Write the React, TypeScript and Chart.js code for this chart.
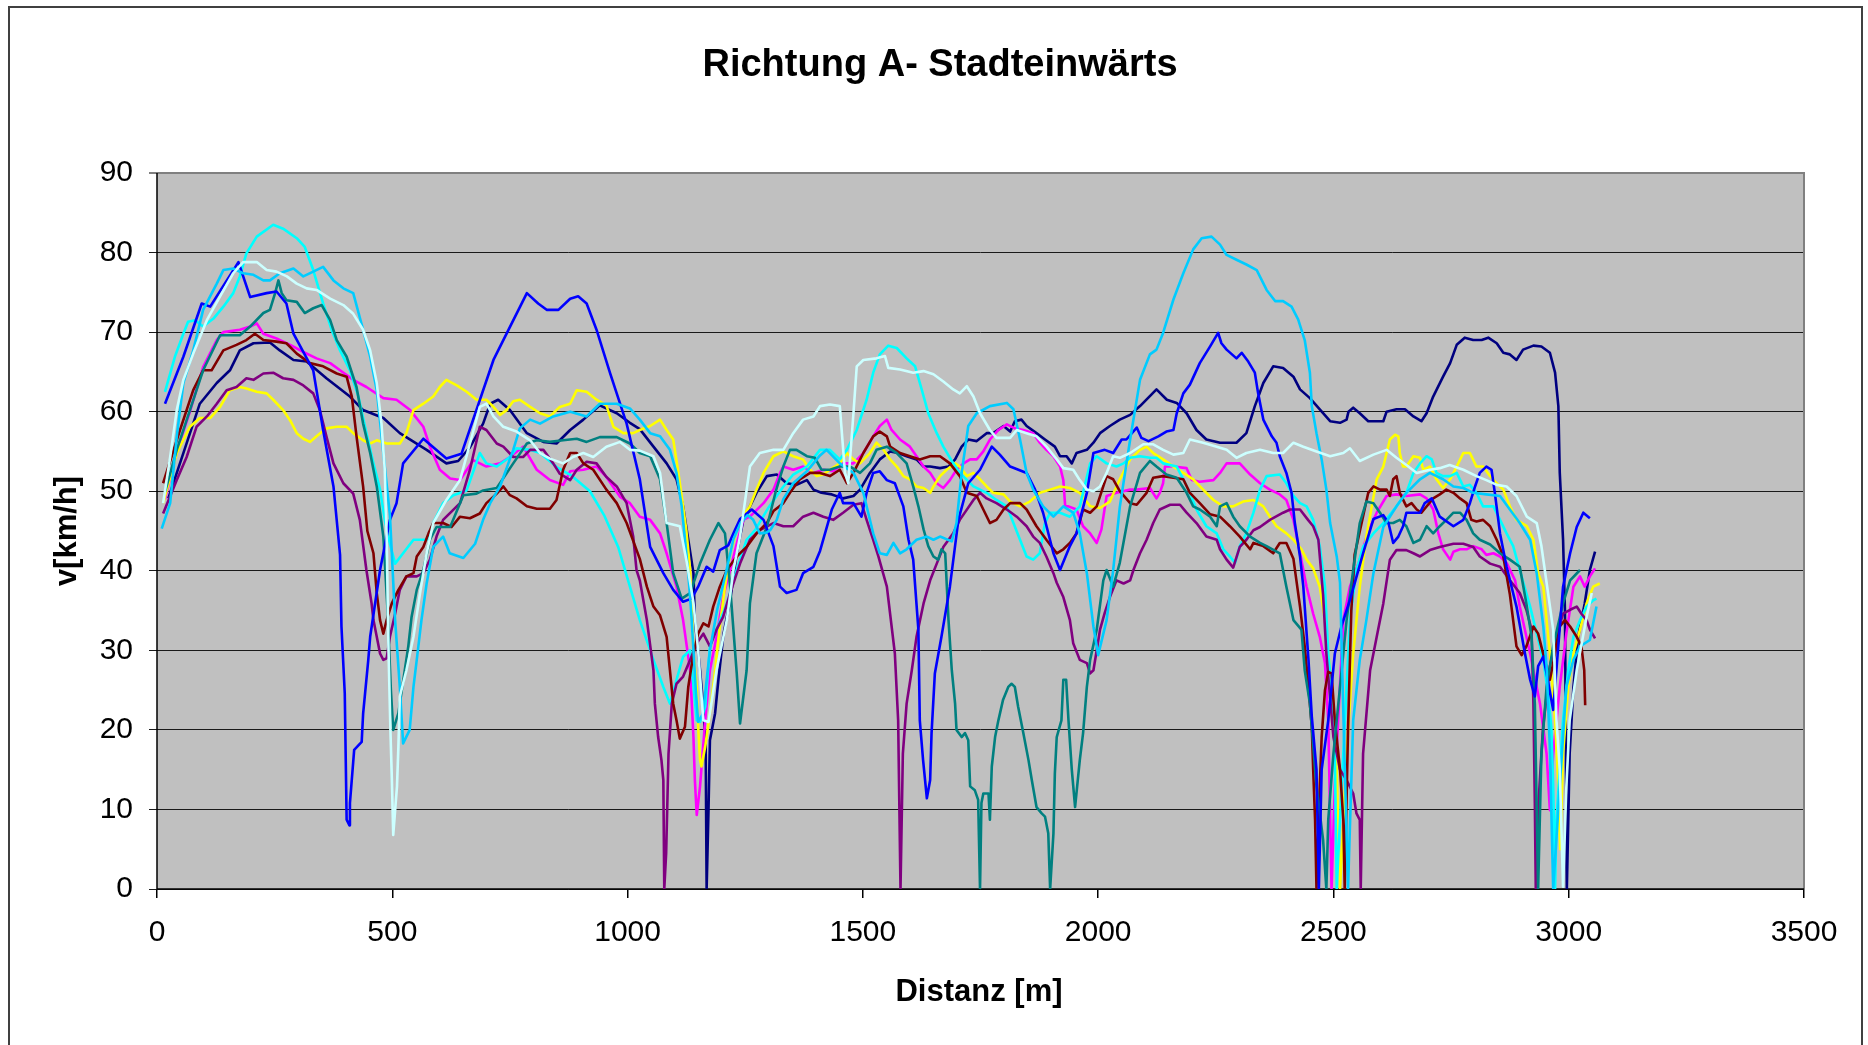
import React, { useEffect, useRef } from "react";
import { Chart, registerables } from "chart.js";

Chart.register(...registerables);

// ---- Axis definitions ----
const xTicks = [0, 500, 1000, 1500, 2000, 2500, 3000, 3500];
const yTicks = [0, 10, 20, 30, 40, 50, 60, 70, 80, 90];
const title = "Richtung A- Stadteinwärts";
const xTitle = "Distanz [m]";
const yTitle = "v[km/h]";

// ---- Series values: [distance m, speed km/h] ----
const navy = [[24,49.1],[56,54.8],[91,61],[127,63.6],[155,65.2],[176,67.7],[205,68.6],[240,68.7],[261,67.7],[290,66.5],[318,66.3],[360,64.2],[410,61.9],[438,60.2],[481,59.2],[516,57.3],[573,55.2],[615,53.5],[640,53.8],[665,55.5],[693,58.5],[708,61],[725,61.5],[750,60.2],[786,57.3],[821,56.2],[849,56],[878,57.7],[906,59],[941,60.8],[977,59.8],[1005,58.6],[1026,57.8],[1055,55.6],[1083,53.5],[1104,51.5],[1118,48.1],[1129,43.9],[1140,39.7],[1143,33.8],[1154,27.5],[1161,22.9],[1166,17.9],[1168,0],[1172,10],[1175,18.7],[1186,22.1],[1193,26.3],[1204,32.1],[1218,36.3],[1232,42.2],[1246,46.4],[1274,49.8],[1296,51.9],[1317,52.1],[1338,51],[1359,50.8],[1381,51.4],[1395,50.2],[1412,49.8],[1434,49.6],[1458,49.1],[1480,49.4],[1494,50.2],[1515,52.3],[1536,54],[1558,55],[1575,54.8],[1593,54.4],[1614,54],[1629,53.1],[1643,53.1],[1664,52.9],[1682,53.1],[1696,54],[1710,55.6],[1724,56.5],[1742,56.3],[1763,57.3],[1777,57.3],[1799,58.2],[1813,57.5],[1823,58.8],[1837,59],[1848,58.2],[1869,57.3],[1887,56.5],[1908,55.6],[1919,54.4],[1933,54.4],[1944,53.5],[1954,54.8],[1976,55.2],[1990,56.1],[2004,57.3],[2025,58.2],[2046,59],[2068,59.6],[2089,60.7],[2124,62.8],[2146,61.5],[2167,61.1],[2188,59.8],[2209,57.7],[2230,56.5],[2259,56.1],[2294,56.1],[2315,57.3],[2333,60.7],[2351,63.6],[2372,65.7],[2393,65.5],[2415,64.4],[2429,62.8],[2450,61.7],[2471,60.3],[2493,58.8],[2514,58.6],[2528,59],[2532,60],[2542,60.5],[2556,59.8],[2574,58.8],[2606,58.8],[2613,60],[2634,60.3],[2652,60.3],[2670,59.4],[2687,58.8],[2698,59.8],[2712,61.9],[2733,64.4],[2748,66.1],[2762,68.4],[2779,69.3],[2797,69],[2815,69],[2829,69.3],[2847,68.6],[2861,67.4],[2875,67.2],[2889,66.5],[2903,67.8],[2925,68.3],[2942,68.2],[2960,67.4],[2971,64.9],[2978,60.7],[2981,52.3],[2988,43.9],[2992,35],[2996,0],[3002,17],[3010,25.4],[3020,31.7],[3034,35.9],[3045,40.1],[3056,42.4]];

const magenta = [[17,49],[42,55],[70,60],[98,65.6],[127,69],[141,70],[176,70.3],[198,70.7],[212,71.1],[226,69.8],[254,69.2],[283,68.4],[311,67.5],[339,66.7],[368,66.1],[389,65.2],[417,64],[445,63.1],[481,61.7],[509,61.5],[538,60.2],[566,58.1],[580,55.6],[601,52.7],[623,51.6],[644,51.4],[672,53.9],[700,53.1],[729,53.5],[750,54.3],[778,55.6],[807,52.7],[835,51.4],[863,50.8],[878,52.5],[906,52.7],[934,53.1],[955,51.8],[984,49.3],[1005,48.5],[1026,46.8],[1048,46.4],[1069,44.7],[1083,42.2],[1104,38],[1118,33.8],[1133,27.5],[1140,19.1],[1143,13.7],[1147,9.3],[1154,12.9],[1165,21.2],[1175,27.5],[1189,31.7],[1203,36.7],[1218,40.1],[1232,43.4],[1246,46.4],[1260,46.8],[1289,48.5],[1310,50.2],[1324,52.3],[1331,53.1],[1352,52.7],[1373,53.1],[1395,52.3],[1416,52.7],[1437,52.5],[1458,53.5],[1480,53.5],[1501,54.8],[1522,56.9],[1536,58.2],[1551,59],[1561,57.7],[1579,56.5],[1600,55.6],[1614,54.4],[1629,53.1],[1643,52.3],[1657,51],[1671,50.4],[1685,51.4],[1699,52.7],[1714,53.5],[1728,54],[1742,54],[1756,55],[1770,56.5],[1788,57.7],[1806,58.4],[1823,57.9],[1841,57.7],[1862,57.3],[1876,56.1],[1890,55.2],[1905,54.4],[1919,53.1],[1926,51.4],[1930,48.1],[1937,48.1],[1954,47.7],[1968,45.6],[1983,44.7],[1997,43.5],[2007,45.2],[2018,49.4],[2039,49.8],[2068,50.2],[2082,50.2],[2110,50.4],[2124,49.1],[2131,49.8],[2138,51],[2142,53.1],[2160,53.1],[2188,52.9],[2199,51.4],[2216,51.2],[2245,51.4],[2259,52.3],[2273,53.5],[2301,53.5],[2323,52.1],[2344,51],[2365,50.2],[2386,49.6],[2400,48.9],[2415,46.4],[2429,42.2],[2443,38],[2457,34.6],[2471,31.7],[2482,28.4],[2489,21.2],[2496,0],[2503,12.9],[2510,21.2],[2521,33.8],[2535,38],[2556,41.4],[2574,45],[2592,47.3],[2613,49.4],[2634,49.6],[2655,49.4],[2684,49.6],[2698,49.1],[2712,47.7],[2723,44.7],[2733,42.7],[2748,41.4],[2755,42.4],[2769,42.7],[2783,42.7],[2797,43.1],[2815,42.7],[2825,42],[2840,42.2],[2854,41.8],[2868,41],[2886,38.8],[2896,35.5],[2918,29.6],[2939,23.3],[2953,17],[2960,9.9],[2967,17],[2981,25.4],[2995,32.1],[3010,38],[3024,39.3],[3034,38],[3045,39.3],[3056,40.3]];

const yellow = [[13,48.5],[42,54.8],[70,58.1],[91,59.2],[113,59.2],[134,60.6],[155,62.7],[176,63.1],[190,62.9],[212,62.5],[233,62.3],[247,61.5],[268,60.2],[283,58.9],[297,57.3],[311,56.6],[325,56.2],[339,56.9],[360,57.9],[382,58.1],[403,58.1],[417,57.3],[438,56.4],[453,56],[467,56.4],[488,56],[516,56],[530,57.3],[545,60.2],[566,61],[587,61.9],[601,63.1],[615,64],[637,63.3],[658,62.5],[679,61.5],[700,61.5],[715,60.6],[729,59.6],[743,60.2],[757,61.3],[771,61.5],[793,60.6],[814,59.8],[835,59.4],[856,60.6],[878,61],[892,62.7],[913,62.5],[934,61.5],[955,60.8],[970,58.1],[991,57.3],[1012,57.3],[1026,57.7],[1048,58.2],[1069,59],[1083,57.7],[1097,56.5],[1108,52.3],[1118,48.1],[1125,45],[1133,40.1],[1140,29.6],[1147,25.4],[1150,20.4],[1154,16.2],[1157,15.4],[1165,17.9],[1175,22.1],[1186,27.5],[1196,33],[1207,38],[1218,42.2],[1228,44.3],[1239,46.4],[1260,48.1],[1274,50.2],[1289,52.3],[1310,54.4],[1331,55],[1352,54.4],[1373,54],[1388,52.7],[1402,51.9],[1416,52.1],[1430,52.7],[1451,53.5],[1466,54.8],[1480,54],[1494,53.5],[1515,54.8],[1529,56.1],[1544,55.2],[1558,54],[1572,53.1],[1586,51.9],[1600,51.5],[1614,50.6],[1629,50.4],[1643,49.8],[1650,50.6],[1664,51.9],[1678,52.7],[1696,53.5],[1706,53.1],[1721,51.9],[1735,52.3],[1749,51.5],[1763,50.6],[1777,49.8],[1799,49.6],[1813,48.7],[1834,48.1],[1855,48.7],[1876,49.8],[1898,50.2],[1919,50.6],[1940,50.4],[1961,49.8],[1983,48.1],[2004,47.9],[2025,48.7],[2046,51.5],[2068,54],[2089,55.2],[2103,55.6],[2117,54.8],[2138,54],[2160,53.1],[2181,52.3],[2202,51.5],[2223,50.2],[2245,48.9],[2266,48.1],[2287,48.1],[2308,48.7],[2330,48.9],[2351,48.1],[2365,46.8],[2379,45.6],[2400,44.7],[2415,43.9],[2432,42.7],[2443,41.4],[2457,40.3],[2471,38],[2482,33.8],[2489,29.6],[2500,23.3],[2507,15],[2514,0],[2528,17],[2542,29.6],[2556,38],[2570,44.3],[2592,51.5],[2606,53.1],[2620,56.5],[2631,57.1],[2638,56.9],[2641,54.8],[2648,53.1],[2655,53.1],[2670,54.4],[2684,54.2],[2691,52.7],[2705,53.1],[2719,51.5],[2733,50.4],[2748,51.5],[2762,53.1],[2776,54.8],[2790,54.8],[2804,53.1],[2818,53.1],[2833,51.9],[2847,51],[2861,50.2],[2875,48.1],[2889,46.4],[2911,45.6],[2925,43.9],[2935,39.7],[2946,38],[2960,29.6],[2971,21.2],[2978,12.9],[2982,5],[2988,17],[2999,25.4],[3010,29.6],[3024,32.6],[3038,35.9],[3052,38],[3066,38.4]];

const cyan = [[17,62.5],[38,66.9],[56,69.8],[66,71.3],[81,71.5],[98,70.7],[120,71.7],[141,73.2],[162,74.9],[176,77],[190,79.9],[212,82],[247,83.5],[268,83],[297,81.8],[314,80.7],[332,77.8],[353,73.6],[371,70.3],[389,67.7],[410,65.2],[428,61.9],[445,57.3],[460,53.5],[474,50.2],[484,46.4],[495,43.4],[506,40.9],[523,42.2],[545,43.9],[573,43.9],[587,46],[608,48.5],[630,49.5],[658,50.1],[686,54.8],[700,53.5],[722,53.1],[750,54.3],[764,55.4],[793,55.2],[814,54.8],[850,53],[880,52],[920,50],[950,47],[980,43],[1005,38],[1026,33.8],[1055,28.8],[1076,25.4],[1090,23.3],[1104,26.3],[1118,29.2],[1133,30],[1147,21.2],[1154,21],[1165,22.9],[1175,30.5],[1189,32.6],[1211,35.9],[1232,40.1],[1253,43.9],[1271,45.1],[1300,48],[1330,50.5],[1352,52.1],[1381,53.1],[1409,55.2],[1430,55.2],[1451,54],[1466,55.2],[1487,57.7],[1508,61.5],[1522,64.9],[1536,67.2],[1554,68.3],[1572,68],[1593,66.7],[1611,65.7],[1625,62.8],[1639,59.8],[1657,57.3],[1671,55.6],[1689,53.8],[1706,52.3],[1735,50.6],[1763,49.8],[1784,48.9],[1806,48.1],[1820,46],[1834,43.9],[1848,41.8],[1862,41.4],[1876,42.2],[1887,46],[1898,47.3],[1919,47.3],[1940,46.8],[1961,48.1],[1983,53.5],[1997,54.4],[2018,53.5],[2039,53.1],[2054,53.5],[2068,54.2],[2089,54.4],[2110,54.2],[2124,54.2],[2138,53.5],[2167,53.1],[2181,51.5],[2195,49.8],[2209,47.7],[2230,45.6],[2252,44.7],[2266,42.7],[2280,41.8],[2291,41],[2301,43.1],[2315,44.7],[2330,47.3],[2344,50.2],[2358,51.9],[2386,52.1],[2400,51],[2415,49.4],[2429,48.5],[2443,48.1],[2457,46.4],[2471,43.1],[2482,38],[2489,29.6],[2496,25.4],[2503,17],[2507,0],[2514,8.7],[2521,17],[2528,25.4],[2535,33.8],[2549,40.1],[2563,43],[2585,44.7],[2606,46],[2634,48.1],[2655,49.8],[2670,52.3],[2684,53.5],[2698,54.4],[2709,54],[2719,52.3],[2733,51.9],[2748,51.9],[2762,52.3],[2776,50.6],[2790,50.8],[2804,49.8],[2818,48.1],[2840,48.1],[2854,46.4],[2868,44.7],[2882,43.1],[2896,40.1],[2918,35.5],[2932,32.1],[2946,28.8],[2956,24.6],[2963,20.4],[2967,12.9],[2971,0],[2974,8.7],[2981,15],[2988,21.2],[2999,27.5],[3010,31.7],[3024,33.8],[3038,35.5],[3052,36.3],[3059,36.5]];

const purple = [[13,47.2],[42,51.4],[63,54.3],[84,58.1],[106,59.4],[127,61],[148,62.7],[169,63.1],[190,64.2],[205,64],[226,64.8],[247,64.9],[268,64.2],[290,64],[311,63.3],[332,62.3],[346,60.2],[360,56.9],[375,53.5],[396,51],[417,49.7],[431,46.4],[445,40.1],[456,35.9],[460,33.8],[467,31.7],[474,29.6],[481,28.8],[488,29],[495,31.7],[506,34.6],[516,37.6],[530,39.3],[552,39.3],[566,39.7],[580,41.4],[594,44.3],[608,46.4],[644,48.5],[665,52.7],[686,58.1],[700,57.7],[722,56],[736,55.6],[757,54.3],[778,54.3],[793,55.2],[821,55.2],[842,53.5],[856,52.2],[878,51.4],[892,52.7],[913,53.7],[934,53.5],[955,51.8],[977,50.6],[998,48.5],[1012,44.3],[1019,40.1],[1026,38.8],[1041,33.8],[1055,27.5],[1058,23.3],[1065,19.1],[1072,16.2],[1076,13.7],[1078,0],[1082,4.5],[1087,17],[1094,23.3],[1104,25.8],[1118,26.7],[1133,28.8],[1147,30.9],[1161,32.1],[1175,30.5],[1189,32.6],[1203,34.2],[1218,37.2],[1239,40.9],[1260,43.9],[1281,45.1],[1310,46],[1331,45.6],[1352,45.6],[1373,46.8],[1395,47.3],[1416,46.8],[1437,46.4],[1458,47.3],[1480,48.3],[1497,48.5],[1508,46.4],[1522,43.9],[1533,41.8],[1551,38],[1568,29.6],[1575,21.2],[1580,0],[1585,17],[1593,23.3],[1604,27.5],[1614,31.7],[1629,35.9],[1643,38.8],[1657,40.9],[1671,43],[1692,44.7],[1706,46.4],[1735,48.9],[1749,49.8],[1763,49.1],[1784,48.5],[1806,47.7],[1827,46.8],[1848,45.6],[1862,44.3],[1876,43.5],[1890,41.8],[1905,39.7],[1912,38.5],[1926,36.7],[1940,33.8],[1947,30.9],[1961,28.8],[1976,28.4],[1983,27.1],[1990,27.5],[1997,30],[2004,32.6],[2014,34.7],[2025,36.7],[2039,38.8],[2054,38.4],[2068,38.8],[2075,40.1],[2089,42.2],[2103,43.9],[2117,46],[2131,47.7],[2153,48.3],[2174,48.3],[2188,47.3],[2209,46],[2230,44.3],[2252,43.9],[2259,42.7],[2273,41.4],[2287,40.4],[2301,43],[2315,43.9],[2330,45.1],[2344,45.5],[2365,46.4],[2393,47.3],[2408,47.7],[2429,47.7],[2446,46.4],[2457,45.6],[2468,43.9],[2478,37],[2485,29.6],[2500,19.1],[2514,15],[2528,13.7],[2542,12],[2549,9.5],[2556,8.7],[2558,0],[2563,17],[2578,27.5],[2592,31.7],[2606,35.9],[2620,41.4],[2634,42.6],[2655,42.6],[2670,42.2],[2684,41.8],[2705,42.6],[2726,43],[2755,43.4],[2776,43.4],[2797,43],[2811,41.8],[2833,40.9],[2854,40.5],[2875,38.8],[2896,37.2],[2910,35.1],[2921,32.6],[2925,23.3],[2928,10.8],[2930,0],[2935,10],[2945,20],[2960,28],[2975,32],[2988,34.6],[3003,35.1],[3017,35.5],[3027,34.6],[3038,33.8],[3045,32.6],[3056,31.5]];

const maroon = [[13,51],[49,57.7],[77,62.7],[98,65.2],[116,65.2],[141,67.7],[169,68.4],[190,69],[208,69.8],[226,69],[254,68.8],[275,68.6],[297,67.3],[325,66.1],[353,65.7],[382,64.8],[403,64.4],[414,61.9],[424,56.9],[438,50.6],[447,45],[460,42.2],[467,37.2],[474,33.8],[481,32.1],[488,33.8],[499,35.9],[513,37.6],[530,39.3],[545,39.7],[552,41.8],[566,43],[577,44.7],[587,46],[608,46],[626,45.5],[644,46.8],[665,46.6],[686,47.2],[700,48.5],[722,49.7],[736,50.6],[750,49.5],[764,49.1],[786,48.1],[807,47.8],[835,47.8],[849,48.9],[863,52.7],[878,54.8],[892,54.8],[906,53.5],[927,52.7],[955,50.2],[977,48.5],[998,46],[1026,41.5],[1041,38],[1055,35.5],[1069,34.4],[1083,31.7],[1090,27.5],[1097,23.3],[1104,21.2],[1111,18.9],[1122,20.4],[1129,25.4],[1140,29.6],[1150,32.1],[1161,33.4],[1172,33],[1182,35.5],[1196,38],[1211,40.1],[1232,41.8],[1253,43],[1274,44.7],[1296,46],[1310,47.5],[1331,48.5],[1345,49.8],[1366,51.5],[1388,52.3],[1409,52.3],[1430,51.9],[1451,52.7],[1466,51],[1480,52.3],[1501,54.8],[1522,56.9],[1536,57.5],[1551,56.9],[1558,55.6],[1579,54.8],[1600,54.4],[1621,54],[1643,54.4],[1664,54.4],[1685,53.5],[1706,51.9],[1721,49.8],[1742,49.4],[1756,47.7],[1770,46],[1784,46.4],[1799,47.7],[1813,48.5],[1834,48.5],[1848,47.7],[1869,45.6],[1890,43.9],[1912,42.2],[1926,42.7],[1940,43.5],[1954,44.7],[1968,47.7],[1983,47.3],[1997,48.1],[2018,51.9],[2032,51.5],[2046,50],[2068,48.5],[2082,48.3],[2103,49.8],[2117,51.7],[2138,51.9],[2160,51.7],[2181,51.5],[2195,49.8],[2216,48.5],[2238,47.1],[2259,46.8],[2280,45.6],[2301,44.3],[2323,42.7],[2330,43.5],[2351,43.1],[2372,42.2],[2386,43.5],[2400,43.5],[2415,41.5],[2429,35.5],[2439,30.5],[2447,25.4],[2454,20.4],[2457,15],[2461,8.7],[2464,0],[2471,12.9],[2475,19.1],[2482,25],[2489,27.3],[2496,27.1],[2503,21.2],[2514,15],[2521,8.7],[2524,0],[2531,20],[2538,35],[2545,42],[2574,49.8],[2585,50.6],[2599,50.2],[2613,50.2],[2620,49.4],[2627,51.5],[2634,51.9],[2641,49.8],[2655,48.1],[2666,48.5],[2677,47.7],[2687,47.3],[2712,49.1],[2726,49.6],[2740,50.2],[2755,49.8],[2769,49.1],[2783,48.5],[2793,46.4],[2804,46.2],[2818,46.4],[2833,45.6],[2847,43.9],[2861,41.8],[2875,37],[2889,30.5],[2900,29.4],[2910,30.5],[2925,33],[2935,32.1],[2949,28.8],[2960,26.3],[2971,29.6],[2981,33],[2992,33.8],[3003,33],[3017,31.7],[3027,30.5],[3033,27.5],[3035,23.1]];

const teal = [[17,49.9],[42,55.2],[70,60.2],[98,65.2],[134,69.6],[176,69.6],[198,70.7],[226,72.4],[240,72.8],[251,74.9],[258,76.5],[265,74.9],[275,74],[297,73.8],[314,72.4],[332,73],[350,73.4],[368,71.5],[382,69],[403,66.9],[424,63.1],[438,58.5],[453,54.8],[467,50.6],[481,44.3],[490,35],[497,25],[502,20],[513,22.1],[534,30.5],[541,34.2],[552,37.6],[566,40.1],[580,43.9],[594,45.5],[623,45.5],[651,49.5],[679,49.7],[693,50.1],[722,50.4],[757,53.5],[786,56],[807,56.4],[835,56.2],[863,56.4],[892,56.6],[913,56.2],[941,56.8],[977,56.8],[1005,56],[1026,54.8],[1048,54.4],[1069,51.5],[1083,46],[1097,39.7],[1115,36.5],[1133,37.2],[1154,40.9],[1175,43.9],[1193,46],[1207,44.7],[1218,38],[1232,27.1],[1239,20.8],[1253,27.5],[1260,35.9],[1274,42.2],[1296,45.5],[1315,50],[1331,53.1],[1345,55.2],[1359,55.2],[1381,54.4],[1398,54.2],[1412,52.7],[1430,52.7],[1451,53.1],[1473,53.1],[1494,52.3],[1515,53.5],[1529,55.2],[1551,55.6],[1572,54.8],[1593,53.5],[1607,50.6],[1618,48.1],[1629,45.2],[1639,43.1],[1650,41.8],[1660,41.4],[1667,42.7],[1675,42.2],[1682,33.8],[1689,27.5],[1696,23.3],[1699,20],[1710,19.1],[1717,19.6],[1724,18.7],[1728,12.9],[1738,12.4],[1745,11.2],[1749,0],[1752,10.8],[1756,12],[1767,12],[1770,8.7],[1774,15.4],[1781,19.1],[1788,21.2],[1798,23.8],[1809,25.4],[1816,25.8],[1823,25.4],[1830,22.9],[1841,19.6],[1852,16.2],[1859,13.7],[1869,10.3],[1880,9.5],[1887,9.1],[1894,7],[1898,0],[1905,7],[1908,14.5],[1912,19.1],[1922,21.2],[1926,26.3],[1932,26.3],[1937,21.2],[1944,15],[1951,10.3],[1961,16.2],[1968,19.6],[1976,25.4],[1983,28.8],[1997,32.6],[2011,38.8],[2018,40.1],[2032,38],[2046,41],[2068,48.1],[2089,52.3],[2110,53.8],[2124,53.1],[2145,52.1],[2167,51.7],[2188,49.8],[2202,48.1],[2216,47.7],[2238,46.8],[2252,45.6],[2259,48.1],[2273,48.5],[2287,46.8],[2301,45.6],[2323,44.3],[2344,43.5],[2358,43.1],[2386,42.2],[2400,38],[2415,33.8],[2432,32.6],[2439,27.5],[2450,23.3],[2464,12.9],[2478,6.2],[2485,0],[2489,8.7],[2500,17],[2514,25.4],[2528,33.8],[2542,40.1],[2556,46],[2570,48.7],[2585,48.5],[2599,47.3],[2613,46],[2627,46],[2641,46.4],[2655,45.6],[2670,43.5],[2684,43.9],[2698,45.6],[2712,44.7],[2726,45.6],[2740,46.4],[2755,47.3],[2769,47.3],[2783,46.4],[2797,44.7],[2811,43.9],[2833,43.3],[2854,42.2],[2875,41.4],[2896,40.5],[2910,35.9],[2921,31.7],[2928,23.3],[2935,0],[2942,17],[2953,25.4],[2967,30.5],[2988,35.9],[3003,38.8],[3024,40.1]];

const blue = [[17,61],[56,66.9],[95,73.6],[113,73.2],[173,78.8],[198,74.4],[233,74.9],[254,75.1],[275,73.6],[290,69.8],[332,65.2],[353,57.7],[375,50.6],[389,42],[392,33],[399,24.6],[403,8.7],[409,8],[410,10.8],[419,17.5],[435,18.5],[438,22],[449,28.8],[453,31.7],[474,40.1],[495,46.4],[509,48.5],[523,53.5],[566,56.6],[615,54.1],[647,54.7],[715,66.5],[786,74.9],[810,73.6],[828,72.8],[853,72.8],[878,74.2],[895,74.5],[913,73.6],[934,70.3],[963,64.8],[998,58.5],[1026,51.5],[1048,43],[1076,39.7],[1097,37.6],[1118,36.1],[1136,36.5],[1150,38],[1168,40.5],[1182,39.9],[1196,42.6],[1214,43.2],[1225,44.7],[1239,46.5],[1264,47.7],[1289,46.4],[1310,43.1],[1324,38],[1338,37.2],[1359,37.6],[1373,39.7],[1395,40.5],[1409,42.5],[1434,47.7],[1451,49.8],[1458,48.5],[1480,48.5],[1497,46.8],[1508,49.8],[1522,52.3],[1536,52.5],[1551,51.4],[1568,51],[1586,48.1],[1597,43.9],[1607,41.4],[1618,32.6],[1621,21.2],[1628,16.2],[1636,11.4],[1643,13.7],[1646,19.6],[1653,27.1],[1667,31.7],[1685,38],[1703,46.4],[1724,51],[1749,52.7],[1774,55.6],[1791,54.6],[1813,53.1],[1848,52.3],[1866,50.2],[1883,47.3],[1905,42.2],[1919,40.1],[1940,43.1],[1954,44.7],[1976,49.8],[1990,54.8],[2014,55.2],[2032,54.8],[2050,56.5],[2060,56.5],[2082,58],[2092,56.7],[2107,56.3],[2128,56.9],[2145,57.5],[2160,57.7],[2167,59.8],[2181,62.3],[2195,63.4],[2216,66.1],[2238,68.2],[2255,69.9],[2262,68.6],[2273,67.8],[2294,66.7],[2305,67.4],[2319,66.3],[2333,64.9],[2340,62.3],[2351,59],[2369,56.9],[2379,56.1],[2386,54.4],[2400,52.3],[2411,49.8],[2418,46],[2429,41.8],[2436,38],[2447,28.8],[2454,21.7],[2464,15],[2469,0],[2475,15],[2489,21.2],[2496,25.4],[2503,29.6],[2517,33],[2535,36.3],[2563,42.2],[2585,46.5],[2606,47],[2617,46],[2627,43.5],[2638,44.3],[2648,45.6],[2655,47.3],[2684,47.3],[2694,48.5],[2709,49.1],[2726,46.8],[2755,45.6],[2776,46.4],[2790,48.5],[2801,50.6],[2811,52.3],[2825,53.1],[2836,52.7],[2843,49.8],[2854,44.7],[2868,40.5],[2889,35.5],[2907,29.6],[2918,26.3],[2928,24.2],[2935,28],[2946,29.2],[2953,27.1],[2967,22.5],[2988,38],[3003,42.2],[3017,45.5],[3031,47.3],[3045,46.6]];

const skyBlue = [[10,45.3],[28,48.5],[42,56.9],[56,63.6],[77,67.7],[98,72.8],[127,76.1],[141,77.8],[162,78],[183,77.4],[205,77.2],[226,76.5],[240,76.5],[261,77.4],[290,78],[311,77],[332,77.6],[353,78.2],[375,76.5],[396,75.5],[417,74.9],[438,70.3],[453,66.9],[467,62.7],[481,54.8],[495,47],[506,33.8],[516,25.4],[523,18.3],[537,20],[545,25.4],[552,28.8],[562,33.8],[573,38.4],[587,43],[608,44.3],[622,42.2],[651,41.6],[676,43.4],[693,46.4],[708,48.5],[729,50.6],[757,55.2],[771,57.9],[793,59],[814,58.5],[842,59.4],[878,60],[913,59.4],[941,61],[977,61],[1005,60.4],[1026,59],[1048,57.3],[1069,56.9],[1090,55.2],[1104,52.3],[1115,48.1],[1129,39.7],[1135,35],[1145,25],[1150,21],[1160,22],[1175,30],[1190,35],[1210,40],[1225,44],[1240,46],[1255,47],[1267,46.4],[1281,44.7],[1295,44.8],[1303,45.1],[1317,46.4],[1331,49],[1352,51],[1381,52.5],[1409,54.5],[1423,55.2],[1451,53.5],[1480,52.3],[1501,49.8],[1522,44.7],[1536,42.2],[1551,42],[1565,43.5],[1579,42.2],[1593,42.7],[1614,43.9],[1636,44.3],[1650,43.9],[1664,44.3],[1689,43.7],[1699,46],[1710,52.3],[1724,58.2],[1742,59.8],[1770,60.7],[1806,61.1],[1820,60.3],[1834,56.5],[1848,52.3],[1862,50.2],[1883,48.1],[1905,46.8],[1926,48.1],[1947,47.3],[1961,44.7],[1976,39.7],[1990,33],[2000,29.4],[2018,33.8],[2032,40.1],[2046,48],[2068,56.5],[2089,64],[2110,67.2],[2124,67.8],[2138,69.9],[2160,74.1],[2181,77.4],[2202,80.4],[2220,81.8],[2241,82],[2259,81],[2273,79.7],[2294,79.1],[2315,78.5],[2337,77.8],[2358,75.3],[2376,73.9],[2393,73.9],[2411,73.2],[2425,71.6],[2439,69],[2450,64.9],[2454,60.7],[2464,57.3],[2475,54],[2485,50.2],[2493,46],[2500,43.9],[2507,41.8],[2514,38.5],[2522,20],[2531,0],[2542,21.2],[2556,28.8],[2570,33.8],[2585,39.7],[2606,45.5],[2634,48.1],[2655,49.8],[2684,51.5],[2705,52.3],[2733,51.5],[2755,50.6],[2776,50.4],[2797,49.8],[2825,49.6],[2854,49.4],[2875,47.7],[2896,46],[2918,43.9],[2932,39.7],[2946,33],[2953,28],[2960,17.5],[2967,0],[2981,12.9],[2995,25.4],[3010,28.8],[3024,30.5],[3045,31.3],[3059,35.5]];

const lightCyan = [[13,48.5],[28,54.3],[42,60.2],[56,64],[77,67.3],[106,71.5],[134,74.5],[162,77.4],[183,78.8],[212,78.8],[233,77.8],[254,77.6],[276,77],[297,76.1],[318,75.5],[339,75.3],[368,74.2],[396,73.4],[417,72.3],[438,70.3],[453,67.7],[467,63.6],[477,58.5],[484,52.7],[488,44.3],[492,30],[496,20],[499,14],[502,6.8],[510,12.9],[513,17.9],[516,24.2],[530,27.5],[545,31.7],[559,37.2],[573,42.2],[587,46],[615,48.9],[644,51.4],[665,56],[686,60.6],[700,61],[715,59.4],[736,58.1],[764,57.5],[793,56.4],[814,54.8],[835,54.1],[863,53.5],[884,54.3],[906,54.8],[927,54.3],[955,55.6],[984,56.2],[1005,55.2],[1026,55.1],[1055,54.4],[1069,52.3],[1083,46],[1111,45.6],[1126,41],[1140,36],[1150,30],[1161,21.2],[1172,21],[1189,27.5],[1211,33.8],[1225,40.1],[1239,44.3],[1260,53.1],[1281,54.8],[1310,55.2],[1331,55.2],[1352,57.3],[1373,59],[1395,59.4],[1409,60.7],[1430,60.9],[1451,60.7],[1462,52.3],[1469,51],[1480,59.8],[1487,65.7],[1501,66.5],[1529,66.7],[1547,67],[1554,65.5],[1579,65.3],[1607,64.9],[1629,65.1],[1650,64.7],[1671,63.8],[1692,62.8],[1706,62.3],[1721,63.2],[1735,61.9],[1749,59.8],[1770,57.7],[1784,56.7],[1813,56.7],[1827,57.7],[1848,57.3],[1869,56.9],[1890,55.6],[1912,54],[1926,52.9],[1947,52.7],[1961,51.4],[1976,50.2],[1990,50],[2004,50.6],[2018,52.3],[2032,54.4],[2046,54.2],[2068,54.8],[2096,55.9],[2117,55.9],[2138,55.2],[2160,54.6],[2181,54.8],[2195,56.5],[2223,56.1],[2252,55.6],[2273,55.2],[2294,54.2],[2315,54.8],[2344,55.2],[2372,54.8],[2393,54.8],[2415,56.1],[2436,55.6],[2464,55],[2493,54.4],[2521,54.8],[2535,55.4],[2556,53.8],[2585,54.6],[2613,55.2],[2634,54.2],[2655,53.3],[2677,52.3],[2705,52.7],[2726,52.9],[2747,53.3],[2776,52.7],[2804,51.9],[2825,51.4],[2847,50.8],[2868,50.6],[2889,49.4],[2911,46.8],[2932,46],[2942,43.1],[2953,38.5],[2967,32.6],[2974,21.2],[2981,15],[2988,0.3],[2995,12.9],[3002,21.2],[3017,27.5],[3038,34.2],[3049,37.2]];

// Excel drawing order: first series at bottom, last on top.
const seriesNames = ["Fahrt 1","Fahrt 2","Fahrt 3","Fahrt 4","Fahrt 5","Fahrt 6","Fahrt 7","Fahrt 8","Fahrt 9","Fahrt 10"];
const seriesColors = ["#000080","#FF00FF","#FFFF00","#00FFFF","#800080","#800000","#008080","#0000FF","#00CCFF","#CCFFFF"];
const seriesData = [navy, magenta, yellow, cyan, purple, maroon, teal, blue, skyBlue, lightCyan];

const FONT = "'Liberation Sans', Arial, sans-serif";

const decorPlugin = {
  id: "decor",
  beforeDraw(chart: any) {
    const { ctx, chartArea: a, width, height } = chart;
    ctx.save();
    ctx.fillStyle = "#FFFFFF";
    ctx.fillRect(0, 0, width, height);
    ctx.fillStyle = "#C0C0C0";
    ctx.fillRect(a.left, a.top, a.right - a.left, a.bottom - a.top);
    ctx.restore();
  },
  beforeDatasetsDraw(chart: any) {
    const { ctx, chartArea: a } = chart;
    ctx.save();
    ctx.strokeStyle = "#808080";
    ctx.lineWidth = 2;
    ctx.beginPath();
    ctx.moveTo(a.left, a.top);
    ctx.lineTo(a.right, a.top);
    ctx.lineTo(a.right, a.bottom);
    ctx.stroke();
    ctx.strokeStyle = "#000000";
    ctx.lineWidth = 1.5;
    ctx.beginPath();
    ctx.moveTo(a.left, a.top);
    ctx.lineTo(a.left, a.bottom);
    ctx.lineTo(a.right, a.bottom);
    ctx.stroke();
    ctx.restore();
  },
  afterDraw(chart: any) {
    const { ctx } = chart;
    ctx.save();
    ctx.fillStyle = "#000000";
    ctx.textAlign = "center";
    ctx.textBaseline = "alphabetic";
    ctx.font = `bold 38px ${FONT}`;
    ctx.fillText(title, 940, 76);
    ctx.font = `bold 31px ${FONT}`;
    ctx.fillText(xTitle, 979, 1001);
    ctx.translate(76, 531);
    ctx.rotate(-Math.PI / 2);
    ctx.fillText(yTitle, 0, 0);
    ctx.restore();
    ctx.save();
    ctx.strokeStyle = "#404040";
    ctx.lineWidth = 2;
    ctx.strokeRect(9, 7, 1853, 1100);
    ctx.restore();
  },
};

export default function App() {
  const ref = useRef<HTMLCanvasElement | null>(null);
  useEffect(() => {
    if (!ref.current) return;
    const datasets = seriesData
      .map((d, i) => ({
        label: seriesNames[i],
        data: d.map(([x, y]) => ({ x, y })),
        borderColor: seriesColors[i],
        backgroundColor: seriesColors[i],
        borderWidth: 2.6,
        pointRadius: 0,
        pointHoverRadius: 0,
        tension: 0,
        fill: false,
        borderJoinStyle: "round" as const,
      }))
      .reverse();
    const chart = new Chart(ref.current, {
      type: "line",
      data: { datasets },
      options: {
        animation: false,
        responsive: true,
        maintainAspectRatio: false,
        events: [],
        layout: { padding: { left: 0, top: 173, right: 64, bottom: 0 } },
        plugins: { legend: { display: false }, tooltip: { enabled: false }, title: { display: false } },
        scales: {
          x: {
            type: "linear",
            min: 0,
            max: 3500,
            afterFit: (s: any) => { s.height = 156; },
            afterBuildTicks: (s: any) => { s.ticks = xTicks.map((v) => ({ value: v })); },
            grid: { drawOnChartArea: false, drawTicks: true, tickLength: 9, color: "#000000", lineWidth: 1.5 },
            border: { display: false },
            ticks: {
              color: "#000000",
              font: { family: FONT, size: 30 },
              padding: 17,
              maxRotation: 0,
              autoSkip: false,
              callback: (v: any) => String(v),
            },
          },
          y: {
            type: "linear",
            min: 0,
            max: 90,
            afterFit: (s: any) => { s.width = 157; },
            afterBuildTicks: (s: any) => { s.ticks = yTicks.map((v) => ({ value: v })); },
            grid: {
              drawTicks: true,
              tickLength: 8,
              color: (c: any) => (c.tick && c.tick.value === 90 ? "#808080" : "#1a1a1a"),
              lineWidth: (c: any) => (c.tick && c.tick.value === 90 ? 2 : 1),
            },
            border: { display: false },
            ticks: {
              color: "#000000",
              font: { family: FONT, size: 30 },
              padding: 16,
              autoSkip: false,
              callback: (v: any) => String(v),
            },
          },
        },
      },
      plugins: [decorPlugin],
    });
    return () => chart.destroy();
  }, []);
  return (
    <div style={{ position: "absolute", left: 0, top: 0, width: 1868, height: 1045, background: "#fff" }}>
      <canvas ref={ref} />
    </div>
  );
}
